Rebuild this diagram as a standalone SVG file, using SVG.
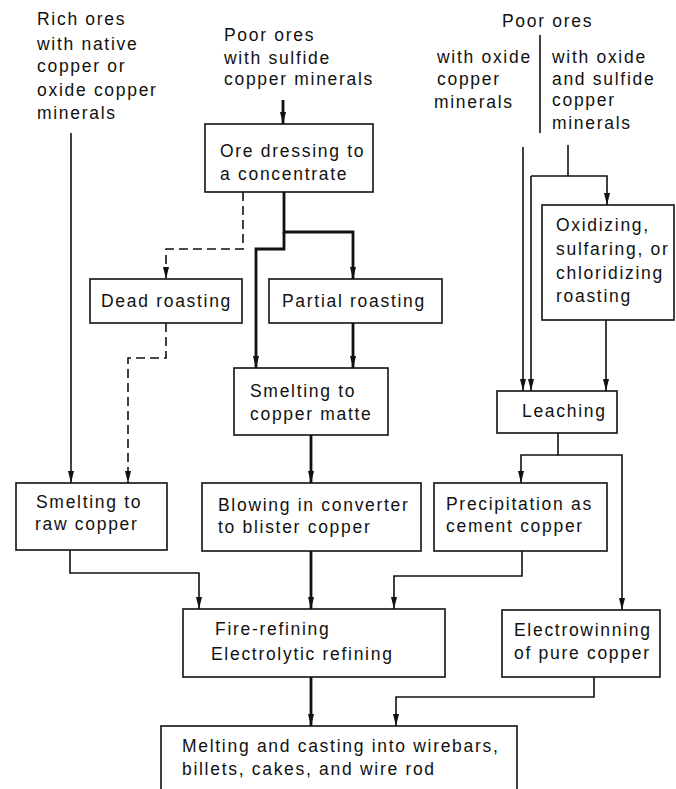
<svg xmlns="http://www.w3.org/2000/svg" width="676" height="789" viewBox="0 0 676 789">
<style>
  text { font-family: "Liberation Sans", Arial, sans-serif; font-size: 17.5px; letter-spacing: 1.7px; fill: #111; }
  .box { fill: #fff; stroke: #111; stroke-width: 1.6; }
  .ln { fill: none; stroke: #111; stroke-width: 1.6; }
  .thick { fill: none; stroke: #111; stroke-width: 2.8; }
  .dash { fill: none; stroke: #111; stroke-width: 1.6; stroke-dasharray: 9 5; }
</style>
<defs>
  <marker id="a" viewBox="0 0 12 6" refX="12" refY="3" markerWidth="12" markerHeight="6" markerUnits="userSpaceOnUse" orient="auto">
    <path d="M0,0 L12,3 L0,6 Z" fill="#111"/>
  </marker>
</defs>

<g id="labels">
  <text x="37" y="25">Rich ores</text>
  <text x="37" y="50">with native</text>
  <text x="37" y="72">copper or</text>
  <text x="37" y="96">oxide copper</text>
  <text x="37" y="119">minerals</text>
  <text x="224" y="41">Poor ores</text>
  <text x="224" y="64">with sulfide</text>
  <text x="224" y="85">copper minerals</text>
  <text x="502" y="27">Poor ores</text>
  <text x="437" y="63">with oxide</text>
  <text x="437" y="85">copper</text>
  <text x="434" y="108">minerals</text>
  <text x="552" y="63">with oxide</text>
  <text x="552" y="85">and sulfide</text>
  <text x="552" y="106">copper</text>
  <text x="552" y="129">minerals</text>
  <line class="ln" x1="540" y1="35" x2="540" y2="133"/>
</g>

<g id="connectors">
  <line class="ln" x1="71" y1="133" x2="71" y2="483" marker-end="url(#a)"/>
  <line class="thick" x1="283" y1="100" x2="283" y2="124" marker-end="url(#a)"/>
  <polyline class="dash" points="243,192 243,249 166,249 166,279" marker-end="url(#a)"/>
  <polyline class="thick" points="284,192 284,232 353,232 353,279" marker-end="url(#a)"/>
  <polyline class="thick" points="284,232 284,249 256,249 256,368" marker-end="url(#a)"/>
  <polyline class="dash" points="166,323 166,358 128,358 128,483" marker-end="url(#a)"/>
  <line class="thick" x1="353" y1="323" x2="353" y2="368" marker-end="url(#a)"/>
  <line class="thick" x1="311" y1="435" x2="311" y2="483" marker-end="url(#a)"/>
  <polyline class="ln" points="70,550 70,573 199,573 199,609" marker-end="url(#a)"/>
  <line class="thick" x1="311" y1="551" x2="311" y2="609" marker-end="url(#a)"/>
  <polyline class="ln" points="522,551 522,576 394,576 394,609" marker-end="url(#a)"/>
  <line class="ln" x1="523" y1="147" x2="523" y2="391" marker-end="url(#a)"/>
  <polyline class="ln" points="531,176 607,176 607,205" marker-end="url(#a)"/>
  <line class="ln" x1="531" y1="176" x2="531" y2="391" marker-end="url(#a)"/>
  <line class="ln" x1="568" y1="145" x2="568" y2="176"/>
  <line class="ln" x1="606" y1="320" x2="606" y2="391" marker-end="url(#a)"/>
  <polyline class="ln" points="558,433 558,455 521,455 521,483" marker-end="url(#a)"/>
  <polyline class="ln" points="558,455 622,455 622,610" marker-end="url(#a)"/>
  <line class="thick" x1="311" y1="677" x2="311" y2="726" marker-end="url(#a)"/>
  <polyline class="ln" points="594,677 594,697 396,697 396,726" marker-end="url(#a)"/>
</g>

<g id="ore-dressing">
  <rect class="box" x="205" y="124" width="168" height="68"/>
  <text x="220" y="157">Ore dressing to</text>
  <text x="220" y="180">a concentrate</text>
</g>
<g id="dead-roasting">
  <rect class="box" x="90" y="279" width="152" height="44"/>
  <text x="101" y="307">Dead roasting</text>
</g>
<g id="partial-roasting">
  <rect class="box" x="269" y="279" width="173" height="44"/>
  <text x="282" y="307">Partial roasting</text>
</g>
<g id="oxidizing-roasting">
  <rect class="box" x="542" y="205" width="132" height="115"/>
  <text x="556" y="231">Oxidizing,</text>
  <text x="556" y="255">sulfaring, or</text>
  <text x="556" y="279">chloridizing</text>
  <text x="556" y="302">roasting</text>
</g>
<g id="smelting-matte">
  <rect class="box" x="234" y="368" width="154" height="67"/>
  <text x="250" y="397">Smelting to</text>
  <text x="250" y="420">copper matte</text>
</g>
<g id="leaching">
  <rect class="box" x="497" y="391" width="120" height="42"/>
  <text x="522" y="417">Leaching</text>
</g>
<g id="smelting-raw">
  <rect class="box" x="16" y="483" width="151" height="67"/>
  <text x="36" y="508">Smelting to</text>
  <text x="35" y="530">raw copper</text>
</g>
<g id="blowing">
  <rect class="box" x="202" y="483" width="219" height="68"/>
  <text x="218" y="511">Blowing in converter</text>
  <text x="218" y="533">to blister copper</text>
</g>
<g id="precipitation">
  <rect class="box" x="434" y="483" width="173" height="68"/>
  <text x="446" y="510">Precipitation as</text>
  <text x="446" y="532">cement copper</text>
</g>
<g id="refining">
  <rect class="box" x="183" y="609" width="262" height="68"/>
  <text x="215" y="635">Fire-refining</text>
  <text x="211" y="660">Electrolytic refining</text>
</g>
<g id="electrowinning">
  <rect class="box" x="502" y="610" width="158" height="67"/>
  <text x="514" y="636">Electrowinning</text>
  <text x="514" y="659">of pure copper</text>
</g>
<g id="melting">
  <rect class="box" x="161" y="726" width="356" height="80"/>
  <text x="182" y="752">Melting and casting into wirebars,</text>
  <text x="182" y="775">billets, cakes, and wire rod</text>
</g>
</svg>
